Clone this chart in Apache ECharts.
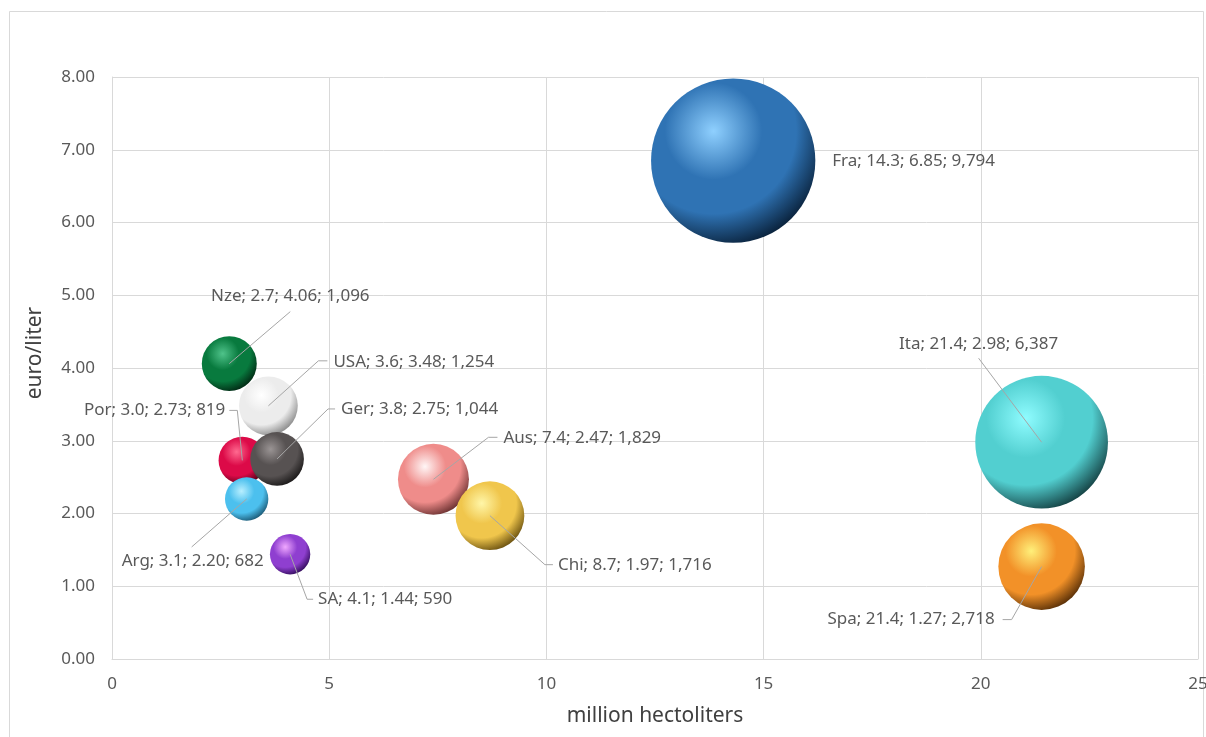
<!DOCTYPE html>
<html>
<head>
<meta charset="utf-8">
<script src="https://cdn.jsdelivr.net/npm/echarts@6/dist/echarts.min.js"></script>
<style>
  html, body { margin: 0; padding: 0; background: #fff; overflow: hidden; }
  #chart { width: 1206px; height: 737px; }
</style>
</head>
<body>
<div id="chart"></div>
<script>
// wine exporters: volume (million hl), price (euro/l), value (million euro)
var countries = ['Fra', 'Ita', 'Spa', 'Nze', 'USA', 'Por', 'Ger', 'Arg', 'SA', 'Aus', 'Chi'];
var volume = [14.3, 21.4, 21.4, 2.7, 3.6, 3.0, 3.8, 3.1, 4.1, 7.4, 8.7];
var price = [6.85, 2.98, 1.27, 4.06, 3.48, 2.73, 2.75, 2.20, 1.44, 2.47, 1.97];
var value = [9794, 6387, 2718, 1096, 1254, 819, 1044, 682, 590, 1829, 1716];

var xTicks = [0, 5, 10, 15, 20, 25];
var yTicks = [0, 1, 2, 3, 4, 5, 6, 7, 8];

// sphere shading per country: [highlight, base, shadow]
var shades = {
    Fra: ['#8fd0ff', '#2f73b4', '#061a30'],
    Ita: ['#8ffcff', '#52cfd0', '#0f3436'],
    Spa: ['#fff07a', '#f29128', '#4a2604'],
    Nze: ['#4fc38a', '#087a3e', '#01200f'],
    USA: ['#ffffff', '#ececec', '#808080'],
    Por: ['#ff6a90', '#dc0a48', '#4a0014'],
    Ger: ['#9a9494', '#575252', '#151313'],
    Arg: ['#b8efff', '#4cc0ee', '#174f6a'],
    SA: ['#f0a8ff', '#8f3fd0', '#2a0850'],
    Aus: ['#fff6f6', '#ef8c8a', '#5e2828'],
    Chi: ['#fff6a8', '#f0c64c', '#5e460a']
};

// label text offset from the bubble centre (px) + alignment
var labelPos = {
    Fra: [99, 0, 'left'],
    Ita: [-63, -98, 'center'],
    Spa: [-47, 53, 'right'],
    Nze: [61, -67, 'center'],
    USA: [65, -44, 'left'],
    Por: [-17, -50, 'right'],
    Ger: [64, -50, 'left'],
    Arg: [17, 62, 'right'],
    SA: [28, 45, 'left'],
    Aus: [70, -41, 'left'],
    Chi: [68, 49, 'left']
};
// leader line bends, relative to the bubble centre (px)
var leaders = {
    Fra: [],
    Ita: [[-63, -84]],
    Spa: [[-30, 53], [-39, 53]],
    Nze: [[61, -52]],
    USA: [[50, -45], [59, -45]],
    Por: [[-5, -50], [-13, -50]],
    Ger: [[51, -50], [58, -50]],
    Arg: [[-55, 48]],
    SA: [[17, 45], [23, 45]],
    Aus: [[55, -42], [64, -42]],
    Chi: [[55, 49], [63, 49]]
};

var bubbles = [];
var points = [];
for (var i = 0; i < countries.length; i++) {
    var c = shades[countries[i]];
    bubbles.push({
        name: countries[i],
        value: [volume[i], price[i], value[i]],
        itemStyle: {
            color: {
                type: 'radial', x: 0.38, y: 0.32, r: 0.74,
                colorStops: [
                    { offset: 0, color: c[0] },
                    { offset: 0.4, color: c[1] },
                    { offset: 0.68, color: c[1] },
                    { offset: 1, color: c[2] }
                ]
            }
        }
    });
    points.push({ name: countries[i], value: [volume[i], price[i], value[i]] });
}

function fmtLabel(name, v) {
    return name + '; ' + v[0].toFixed(1) + '; ' + v[1].toFixed(2) + '; ' + v[2].toLocaleString('en-US');
}

function renderLabel(params, api) {
    var name = countries[params.dataIndex];
    var v = [api.value(0), api.value(1), api.value(2)];
    var c = api.coord([v[0], v[1]]);
    var lp = labelPos[name];
    var kids = [];
    var lead = leaders[name];
    if (lead.length) {
        var pts = [[c[0], c[1]]];
        lead.forEach(function (p) { pts.push([c[0] + p[0], c[1] + p[1]]); });
        kids.push({
            type: 'polyline',
            shape: { points: pts },
            style: { stroke: '#a6a6a6', lineWidth: 1, fill: null }
        });
    }
    kids.push({
        type: 'text',
        x: c[0] + lp[0],
        y: c[1] + lp[1],
        style: {
            text: fmtLabel(name, v),
            fill: '#595959',
            font: '17px "Noto Sans"',
            align: lp[2],
            verticalAlign: 'middle'
        }
    });
    return { type: 'group', children: kids };
}

var chart = echarts.init(document.getElementById('chart'));
chart.setOption({
    animation: false,
    backgroundColor: '#fff',
    textStyle: { fontFamily: 'Noto Sans' },
    graphic: [{
        type: 'rect',
        shape: { x: 9.5, y: 11.5, width: 1194, height: 800 },
        style: { fill: 'none', stroke: '#d9d9d9', lineWidth: 1 },
        silent: true
    }],
    grid: { left: 112, top: 77, right: 8, bottom: 78, outerBoundsMode: 'none', containLabel: false },
    xAxis: {
        type: 'value',
        min: xTicks[0],
        max: xTicks[xTicks.length - 1],
        interval: 5,
        name: 'million hectoliters',
        nameLocation: 'middle',
        nameGap: 47,
        nameTextStyle: { fontSize: 21, color: '#404040' },
        axisLine: { lineStyle: { color: '#d9d9d9' } },
        axisTick: { show: false },
        axisLabel: { fontSize: 17, color: '#595959', margin: 17 },
        splitLine: { lineStyle: { color: '#d9d9d9' } }
    },
    yAxis: {
        type: 'value',
        min: yTicks[0],
        max: yTicks[yTicks.length - 1],
        interval: 1,
        name: 'euro/liter',
        nameLocation: 'middle',
        nameGap: 66,
        nameTextStyle: { fontSize: 21, color: '#404040', padding: [0, 0, 0, 30] },
        axisLine: { show: true, lineStyle: { color: '#d9d9d9' } },
        axisTick: { show: false },
        axisLabel: {
            fontSize: 17, color: '#595959', margin: 17,
            formatter: function (v) { return v.toFixed(2); }
        },
        splitLine: { lineStyle: { color: '#d9d9d9' } }
    },
    series: [{
        type: 'scatter',
        data: bubbles,
        symbolSize: function (v) { return Math.sqrt(v[2]) * 1.66; },
        itemStyle: { opacity: 1 },
        emphasis: { disabled: true }
    }, {
        type: 'custom',
        data: points,
        renderItem: renderLabel,
        clip: false,
        z: 5,
        silent: true
    }]
});
</script>
</body>
</html>
